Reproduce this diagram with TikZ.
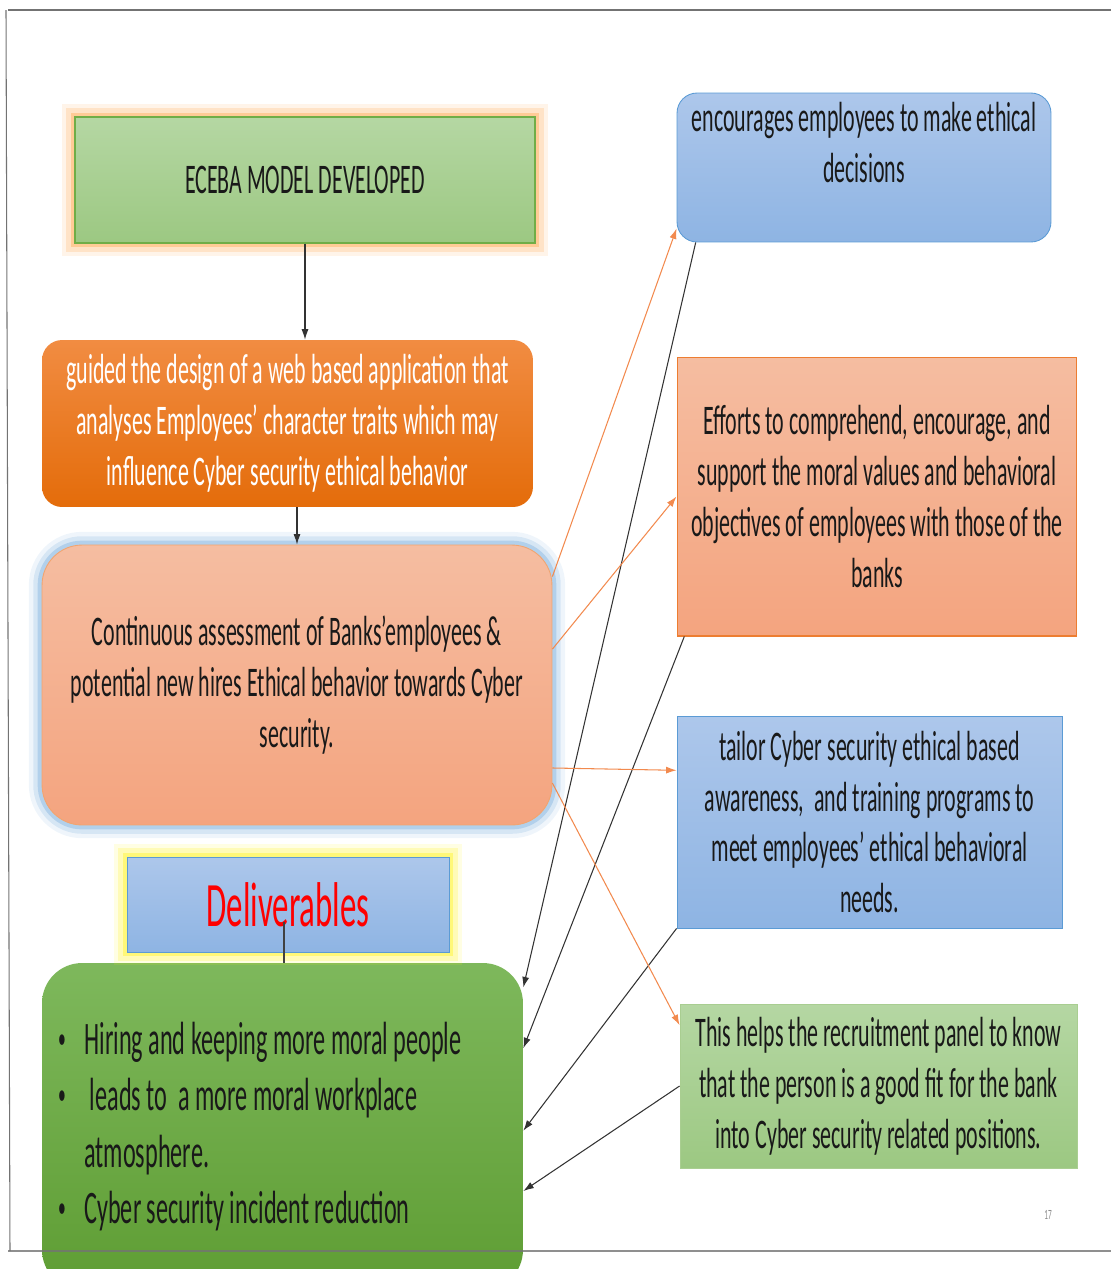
\documentclass[tikz,border=0pt]{standalone}
\usepackage{fontspec}
\setmainfont[FakeStretch=0.52]{Carlito}
\usepackage{tikz}
\usetikzlibrary{arrows.meta,positioning,calc}
\definecolor{grtop}{HTML}{B5D7A3}
\definecolor{grbot}{HTML}{9CC882}
\definecolor{grline}{HTML}{70AD47}
\definecolor{ortop}{HTML}{F18C42}
\definecolor{orbot}{HTML}{E46C0A}
\definecolor{satop}{HTML}{F5BDA1}
\definecolor{sabot}{HTML}{F4A47F}
\definecolor{saline}{HTML}{ED7D31}
\definecolor{bltop}{HTML}{ADC7EB}
\definecolor{blbot}{HTML}{8EB4E3}
\definecolor{blline}{HTML}{5B9BD5}
\definecolor{dgtop}{HTML}{7EB85C}
\definecolor{dgbot}{HTML}{5E9D33}
\definecolor{arrorange}{HTML}{F28A4E}
\newcommand{\blt}{\makebox[15pt][l]{\raisebox{3.5pt}{\fontsize{17}{17}\selectfont\textbullet}}}

\begin{document}
\begin{tikzpicture}
		[x=0.02cm,y=-0.02cm,
		every node/.style={inner sep=0pt,align=center,text=black!90,
			font=\fontsize{24}{29}\selectfont},
		glow/.style={preaction={draw=#1,line width=15pt,draw opacity=.12},
			preaction={draw=#1,line width=10pt,draw opacity=.22},
			preaction={draw=#1,line width=5pt,draw opacity=.4}},
		ecbox/.style={shape=rectangle,top color=grtop,bottom color=grbot,
			draw=grline,line width=0.8pt,glow=orange!70,
			minimum width=9.2cm,minimum height=2.52cm},
		orbox/.style={shape=rectangle,rounded corners=0.4cm,top color=ortop,
			bottom color=orbot,text=white,minimum width=9.82cm,minimum height=3.34cm},
		asbox/.style={shape=rectangle,rounded corners=0.8cm,top color=satop,
			bottom color=sabot,draw=saline!70,line width=0.5pt,glow=blline!80,
			minimum width=10.2cm,minimum height=5.6cm},
		dlbox/.style={shape=rectangle,top color=bltop,bottom color=blbot,
			draw=blline,line width=0.5pt,glow=yellow!90,text=red,
			font=\fontsize{36}{40}\selectfont,minimum width=6.44cm,minimum height=1.9cm},
		gbbox/.style={shape=rectangle,rounded corners=0.8cm,top color=dgtop,
			bottom color=dgbot,align=flush left,text width=8.98cm,inner xsep=0.32cm,
			font=\fontsize{26.5}{32}\selectfont,minimum height=6.54cm},
		bbox/.style={shape=rectangle,top color=bltop,bottom color=blbot,
			draw=blline,line width=0.5pt},
		sbox/.style={shape=rectangle,top color=satop,bottom color=sabot,
			draw=saline,line width=0.6pt},
		lgbox/.style={shape=rectangle,top color=grtop,bottom color=grbot,
			draw=grline!60,line width=0.5pt},
		oarrow/.style={-{Latex[length=6pt,width=4pt]},draw=arrorange,line width=0.6pt},
		karrow/.style={-{Latex[length=6pt,width=4pt]},draw=black!80,line width=0.6pt}]
		\useasboundingbox (0,0) rectangle (1111,1269);
		\node[ecbox] (ec) at (305,180) {ECEBA MODEL DEVELOPED};
		\node[orbox] (og) at (287.5,423.5) {guided the design of a web based application that\\
			analyses Employees’ character traits which may\\
			influence Cyber security ethical behavior};
		\node[asbox] (as) at (297,685) {Continuous assessment of Banks’employees \&\\
			potential new hires Ethical behavior towards Cyber\\
			security.};
		\node[gbbox] (gb) at (282.5,1126.5) {\blt Hiring and keeping more moral people\\
			\blt\ leads to~ a more moral workplace\\
			\hspace*{15pt}atmosphere.\\
			\blt Cyber security incident reduction};
		\node[dlbox] (dl) at (288,904.5) {Deliverables};
		\coordinate (dtail) at (284,922);
		\draw[black!75,line width=0.6pt] (dtail) -- (dtail |- gb.north);
		\node[bbox,rounded corners=0.4cm,minimum width=7.48cm,minimum height=2.98cm]
			(b1) at (864,167.5) {encourages employees to make ethical\\decisions\\ \mbox{}};
		\node[sbox,minimum width=8cm,minimum height=5.58cm] (s2) at (877,496.5)
			{Efforts to comprehend, encourage, and\\
			support the moral values and behavioral\\
			objectives of employees with those of the\\
			banks};
		\node[bbox,minimum width=7.7cm,minimum height=4.24cm] (b3) at (869.5,822)
			{tailor Cyber security ethical based\\
			awareness,~ and training programs to\\
			meet employees’ ethical behavioral\\
			needs.};
		\node[lgbox,minimum width=7.94cm,minimum height=3.28cm] (g4) at (878.5,1086)
			{This helps the recruitment panel to know\\
			that the person is a good fit for the bank\\
			into Cyber security related positions.};
		\node[text=black!45,font=\fontsize{8}{9}\selectfont] (pg) at (1048,1215) {17};
		\draw[black!55,line width=1.6pt] (8,10) -- (1111,10);
		\draw[black!55,line width=0.6pt] (6,10) -- (10,1251);
		\draw[black!55,draw opacity=.8,line width=1.2pt] (8,1251) -- (1111,1251);
		\path
		\foreach \startNode/\endNode in {ec.south/ec.south |- og.north,
			as.north |- og.south/as.north,b1.204/gb.30,s2.216/gb.18,
			b3.south west/gb.-1,g4.west/gb.-15}
		{
			(\startNode) edge[karrow] (\endNode)
		};
		\path
		\foreach \startNode/\endNode in {as.23/b1.198,as.8/s2.west,
			as.-18/b3.165,as.-21/g4.163}
		{
			(\startNode) edge[oarrow] (\endNode)
		};
\end{tikzpicture}
\end{document}
